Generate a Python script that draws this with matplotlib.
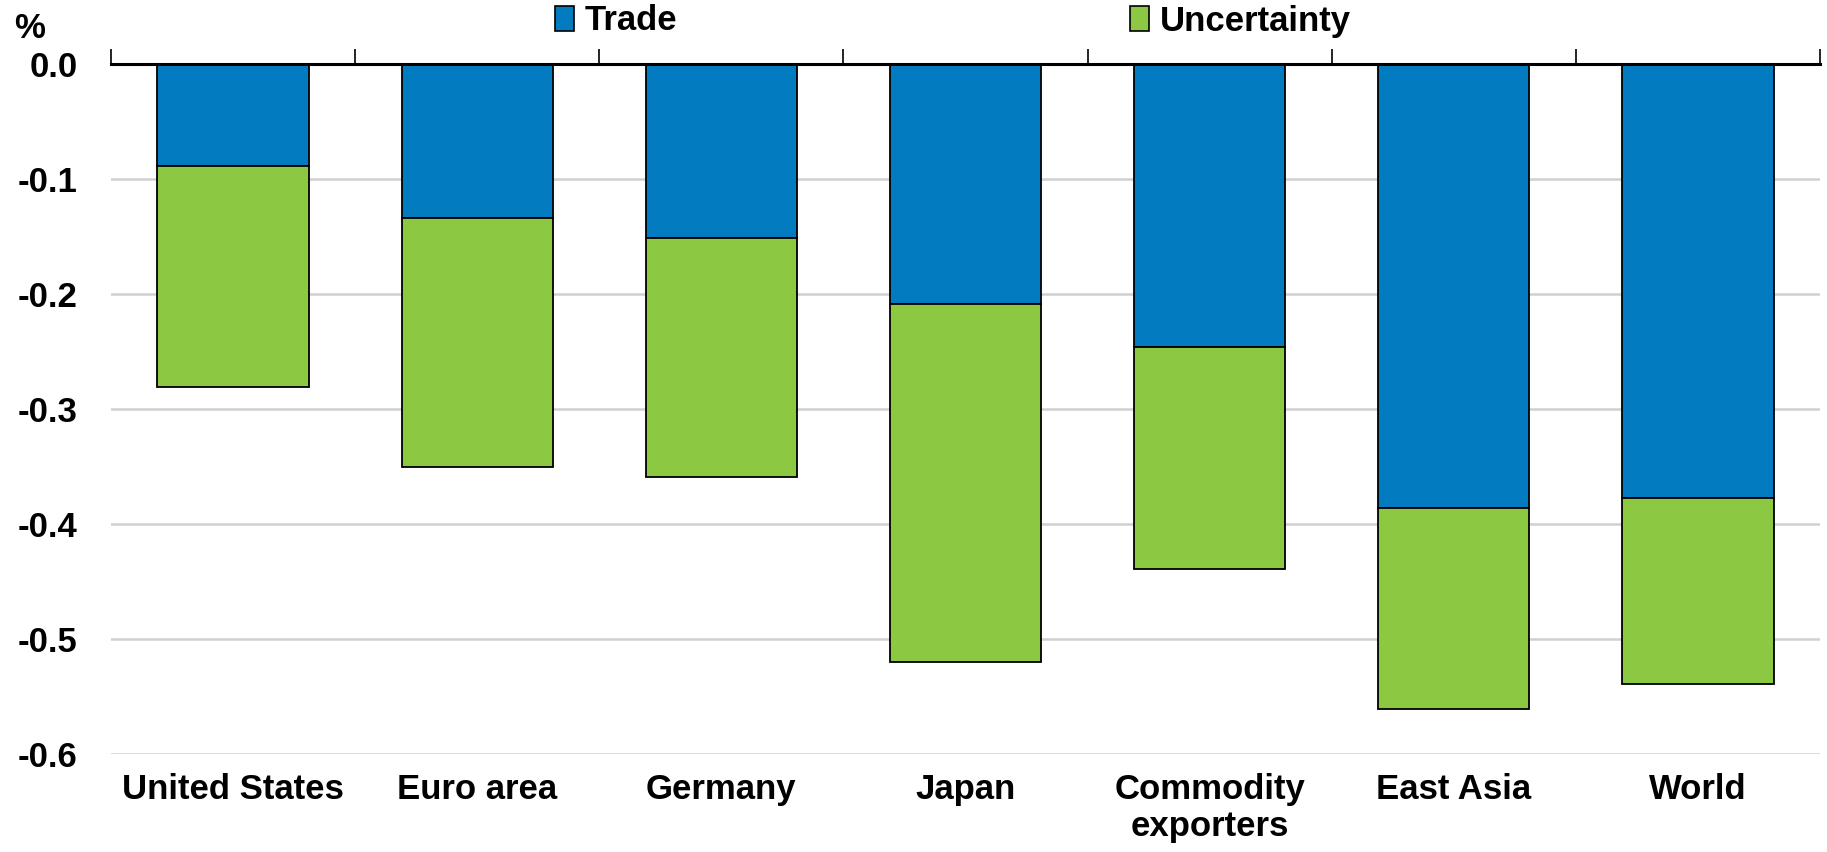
import matplotlib
matplotlib.use("Agg")
import matplotlib.pyplot as plt
import numpy as np
from matplotlib.patches import Patch

categories = ["United States", "Euro area", "Germany", "Japan",
              "Commodity\nexporters", "East Asia", "World"]
trade = [-0.089, -0.134, -0.151, -0.209, -0.246, -0.386, -0.377]
uncertainty = [-0.192, -0.216, -0.208, -0.311, -0.193, -0.175, -0.162]
yticks = [0.0, -0.1, -0.2, -0.3, -0.4, -0.5, -0.6]

plt.rcParams['font.family'] = ['Liberation Sans Narrow', 'Liberation Sans', 'DejaVu Sans']
plt.rcParams['font.weight'] = 'bold'
plt.rcParams['axes.unicode_minus'] = False

BLUE = "#037BC1"
GREEN = "#8CC841"

fig = plt.figure(figsize=(18.27, 8.52), dpi=100)
ax = fig.add_axes([111/1827, 1-754/852, (1820-111)/1827, (754-64)/852])

x = np.arange(len(categories))
w = 0.62
ax.bar(x, trade, w, color=BLUE, edgecolor="black", linewidth=1.3, zorder=3)
ax.bar(x, uncertainty, w, bottom=trade, color=GREEN, edgecolor="black", linewidth=1.3, zorder=3)

ax.set_xlim(-0.5, len(categories) - 0.5)
ax.set_ylim(-0.6, 0.0)
ax.set_yticks(yticks)
ax.set_yticklabels([f"{v:.1f}" for v in yticks], fontsize=25, fontweight='bold')
ax.tick_params(axis='y', length=0, pad=24)

for y in yticks[1:]:
    ax.axhline(y, color="#D0D0D0", linewidth=1.8, zorder=1)

ax.set_xticks(x)
ax.set_xticklabels(categories, fontsize=25, fontweight='bold', linespacing=1.15)
ax.tick_params(axis='x', which='major', length=0, pad=14, bottom=True, top=False)
ax.set_xticks(np.arange(-0.5, len(categories)), minor=True)
ax.tick_params(axis='x', which='minor', top=True, bottom=False, direction='out',
               length=11, width=1.2, color='black')

for s in ['left', 'right', 'bottom']:
    ax.spines[s].set_visible(False)
ax.spines['top'].set_color('black')
ax.spines['top'].set_linewidth(2.2)
ax.spines['top'].set_zorder(5)

fig.text(14/1827, 1-28/852, "%", fontsize=25, fontweight='bold', ha='left', va='center')

def leg(label, color, xpix):
    l = fig.legend(handles=[Patch(facecolor=color, edgecolor='black', linewidth=1.2, label=label)],
                   loc='center left', bbox_to_anchor=(xpix/1827, 1-21/852),
                   frameon=False, fontsize=25, borderpad=0, borderaxespad=0,
                   handlelength=0.55, handleheight=0.7, handletextpad=0.3,
                   prop={'weight': 'bold', 'size': 25})
    return l

leg("Trade", BLUE, 555)
leg("Uncertainty", GREEN, 1130)

fig.savefig("out.png", dpi=100, facecolor='white')
